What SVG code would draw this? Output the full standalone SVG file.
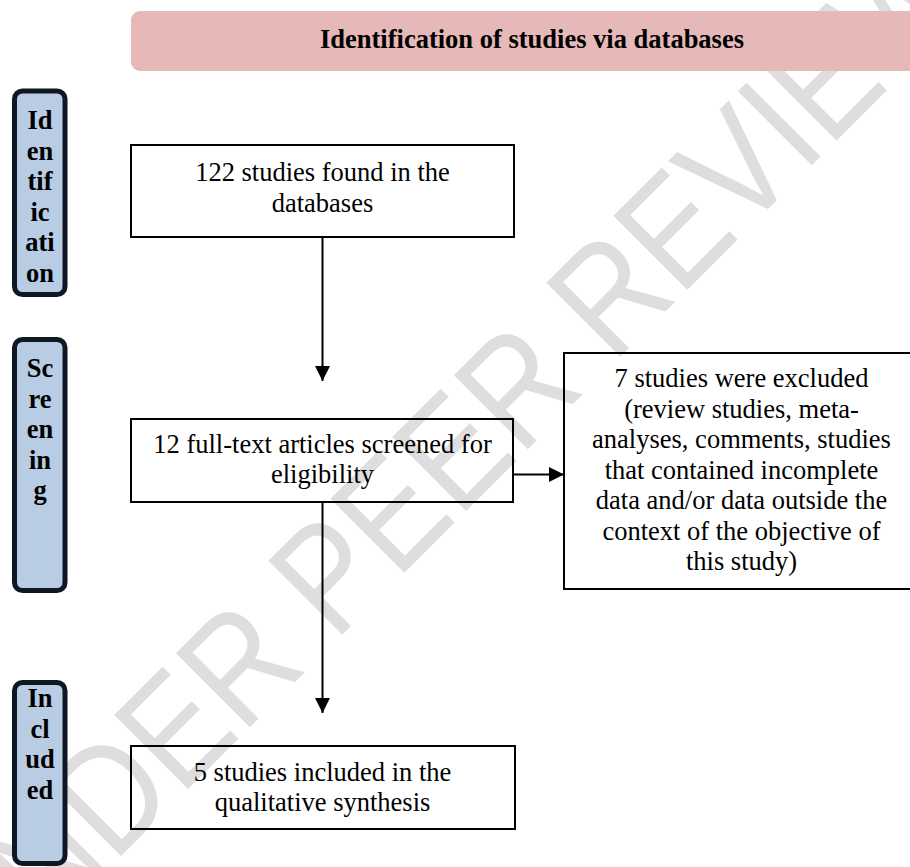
<svg xmlns="http://www.w3.org/2000/svg" width="910" height="867" viewBox="0 0 910 867">
  <style>
    .t { font-family: "Liberation Serif", "Times New Roman", serif; font-size: 26.5px; fill: #000; text-anchor: middle; }
    .b { font-weight: bold; }
    .side rect { fill: #b8cce4; stroke: #0e1722; stroke-width: 5; }
    .box rect { fill: none; stroke: #000; stroke-width: 2; }
    .wm { font-family: "Liberation Sans", Arial, sans-serif; font-size: 152px; fill: #dedede; text-anchor: middle; }
    .conn line { stroke: #000; stroke-width: 2; }
  </style>
  <defs>
    <marker id="ah" markerUnits="userSpaceOnUse" markerWidth="15" markerHeight="15" refX="15" refY="7.5" orient="auto">
      <path d="M0,0 L15,7.5 L0,15 Z" fill="#000"/>
    </marker>
  </defs>
  <rect width="910" height="867" fill="#fff"/>
  <text class="wm" x="479" y="498" textLength="1412" lengthAdjust="spacingAndGlyphs" transform="rotate(-45 479 498)">UNDER PEER REVIEW</text>

  <g id="header">
    <rect x="131" y="11" width="820" height="60" rx="9" fill="#e6b8b7"/>
    <text class="t b" x="532" y="48">Identification of studies via databases</text>
  </g>

  <g id="stage-identification" class="side">
    <rect x="14.5" y="91" width="50.5" height="203.5" rx="8"/>
    <text class="t b" x="40"><tspan x="40" y="129">Id</tspan><tspan x="40" y="159.5">en</tspan><tspan x="40" y="190">tif</tspan><tspan x="40" y="220.5">ic</tspan><tspan x="40" y="251">ati</tspan><tspan x="40" y="281.5">on</tspan></text>
  </g>
  <g id="stage-screening" class="side">
    <rect x="14.5" y="339.5" width="50.5" height="251" rx="8"/>
    <text class="t b" x="40"><tspan x="40" y="377">Sc</tspan><tspan x="40" y="407.5">re</tspan><tspan x="40" y="438">en</tspan><tspan x="40" y="468.5">in</tspan><tspan x="40" y="499">g</tspan></text>
  </g>
  <g id="stage-included" class="side">
    <rect x="14.5" y="682.5" width="50.5" height="181" rx="8"/>
    <text class="t b" x="40"><tspan x="40" y="707">In</tspan><tspan x="40" y="737.5">cl</tspan><tspan x="40" y="768">ud</tspan><tspan x="40" y="798.5">ed</tspan></text>
  </g>

  <g id="found" class="box">
    <rect x="131" y="145" width="383" height="92"/>
    <text class="t"><tspan x="322.5" y="181">122 studies found in the</tspan><tspan x="322.5" y="212">databases</tspan></text>
  </g>
  <g id="screened" class="box">
    <rect x="131" y="419" width="382" height="83"/>
    <text class="t"><tspan x="322.5" y="453">12 full-text articles screened for</tspan><tspan x="322.5" y="483">eligibility</tspan></text>
  </g>
  <g id="excluded" class="box">
    <rect x="564" y="353" width="356" height="236"/>
    <text class="t"><tspan x="741.5" y="387">7 studies were excluded</tspan><tspan x="741.5" y="417.5">(review studies, meta-</tspan><tspan x="741.5" y="448">analyses, comments, studies</tspan><tspan x="741.5" y="478.5">that contained incomplete</tspan><tspan x="741.5" y="509">data and/or data outside the</tspan><tspan x="741.5" y="539.5">context of the objective of</tspan><tspan x="741.5" y="570">this study)</tspan></text>
  </g>
  <g id="included" class="box">
    <rect x="131" y="746" width="384" height="83"/>
    <text class="t"><tspan x="322.5" y="781">5 studies included in the</tspan><tspan x="322.5" y="811">qualitative synthesis</tspan></text>
  </g>

  <g id="connectors" class="conn">
    <line x1="322.5" y1="237" x2="322.5" y2="381" marker-end="url(#ah)"/>
    <line x1="322.5" y1="502" x2="322.5" y2="713" marker-end="url(#ah)"/>
    <line x1="513" y1="474.5" x2="564" y2="474.5" stroke-width="2.5" marker-end="url(#ah)"/>
  </g>
</svg>
